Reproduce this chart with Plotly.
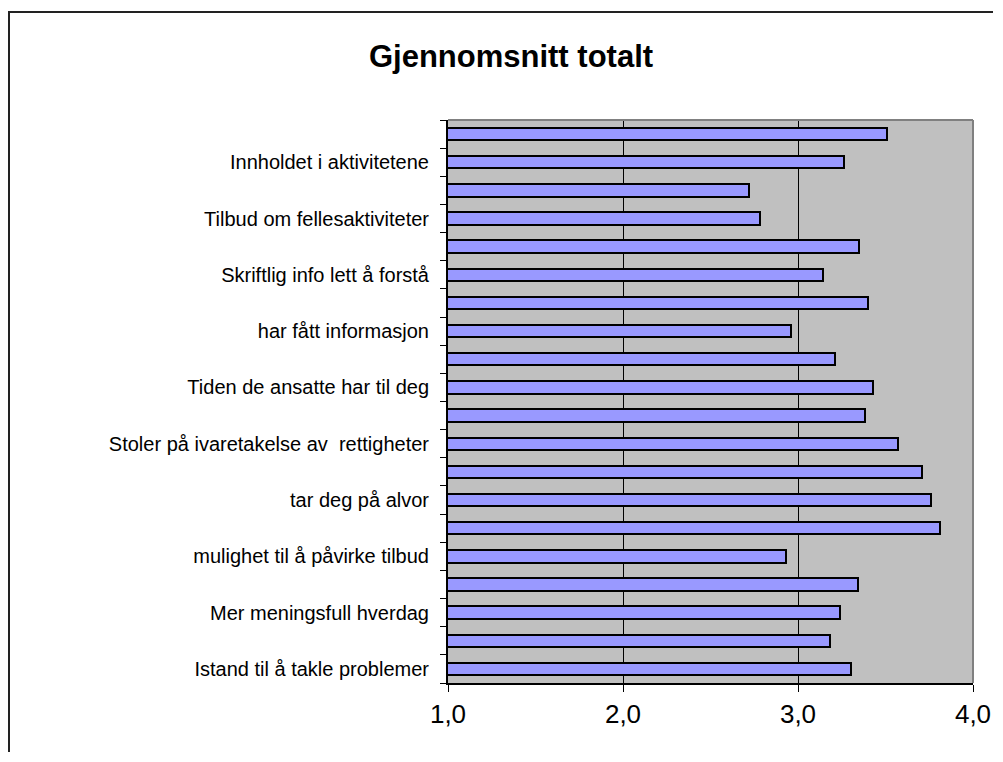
import plotly.graph_objects as go

# Categories listed top to bottom (empty strings = categories whose labels Excel skipped)
categories = [
    "",
    "Innholdet i aktivitetene",
    "",
    "Tilbud om fellesaktiviteter",
    "",
    "Skriftlig info lett å forstå",
    "",
    "har fått informasjon",
    "",
    "Tiden de ansatte har til deg",
    "",
    "Stoler på ivaretakelse av  rettigheter",
    "",
    "tar deg på alvor",
    "",
    "mulighet til å påvirke tilbud",
    "",
    "Mer meningsfull hverdag",
    "",
    "Istand til å takle problemer",
]
values = [3.51, 3.26, 2.72, 2.78, 3.35, 3.14, 3.40, 2.96, 3.21, 3.43,
          3.38, 3.57, 3.71, 3.76, 3.81, 2.93, 3.34, 3.24, 3.18, 3.30]
x_ticks = [1.0, 2.0, 3.0, 4.0]
x_tick_labels = ["1,0", "2,0", "3,0", "4,0"]
title_text = "Gjennomsnitt totalt"

n = len(categories)
ypos = [n - 1 - i for i in range(n)]
label_pos = [p for p, c in zip(ypos, categories) if c]
label_txt = [c for c in categories if c]

# page body has an 8px margin; keep the figure inside the window (no scrollbars)
W, H = 985, 744
L, R, T, B = 440, 20, 112, 69
pw, ph = W - L - R, H - T - B

fig = go.Figure()
fig.add_trace(go.Bar(
    x=values, y=ypos, orientation="h", width=0.44,
    marker=dict(color="#9999FF", line=dict(color="black", width=2)),
    hoverinfo="x",
))

font = "Liberation Sans, Arial, sans-serif"

def px_to_paper_x(px):
    return (px - L) / pw

def px_to_paper_y(py):
    return (H - B - py) / ph

shapes = [
    # outer chart frame
    dict(type="rect", xref="paper", yref="paper",
         x0=px_to_paper_x(1), x1=px_to_paper_x(W + 20),
         y0=px_to_paper_y(H + 20), y1=px_to_paper_y(4),
         line=dict(color="#222222", width=2), layer="below"),
    # gray plot border top / right
    dict(type="line", xref="paper", yref="paper", x0=0, x1=1, y0=1, y1=1,
         line=dict(color="#808080", width=2)),
    dict(type="line", xref="paper", yref="paper", x0=1, x1=1, y0=0, y1=1,
         line=dict(color="#808080", width=2)),
]

fig.update_layout(
    width=W, height=H, autosize=False,
    margin=dict(l=L, r=R, t=T, b=B, pad=0, autoexpand=False),
    paper_bgcolor="white",
    plot_bgcolor="#C0C0C0",
    showlegend=False,
    bargap=0,
    title=dict(text=f"<b>{title_text}</b>", x=503 / W, xanchor="center",
               y=1 - 48 / H, yanchor="middle",
               font=dict(family=font, size=31, color="black")),
    shapes=shapes,
    xaxis=dict(
        range=[1, 4], tickvals=x_ticks, ticktext=x_tick_labels,
        showgrid=True, gridcolor="black", gridwidth=1,
        zeroline=False, showline=True, linecolor="black", linewidth=2,
        ticks="outside", ticklen=7, tickcolor="black", tickwidth=1,
        tickfont=dict(family=font, size=26, color="black"),
        automargin=False, ticklabeloverflow="allow",
        fixedrange=True,
    ),
    yaxis=dict(
        range=[-0.5, n - 0.5], tickvals=label_pos, ticktext=label_txt,
        showgrid=False, zeroline=False, showline=True, linecolor="black", linewidth=2,
        ticks="outside", ticklen=13, tickcolor="rgba(0,0,0,0)",
        tickfont=dict(family=font, size=20, color="black"),
        minor=dict(tickmode="linear", tick0=-0.5, dtick=1, ticks="outside",
                   ticklen=6, tickcolor="black", tickwidth=1, showgrid=False),
        automargin=False,
        fixedrange=True,
    ),
)

fig.write_html("out.html", config={"responsive": False, "displayModeBar": False})
